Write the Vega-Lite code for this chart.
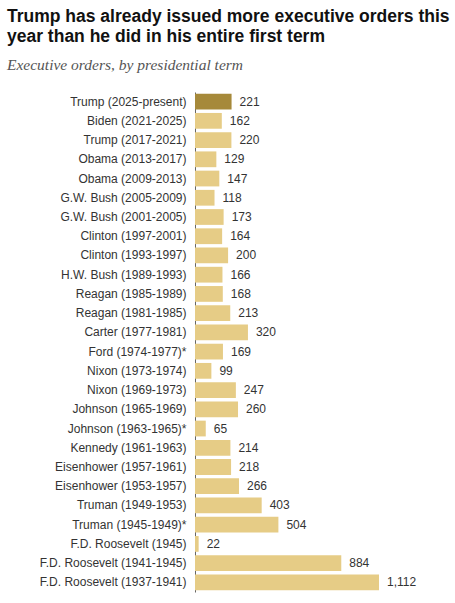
{
  "$schema": "https://vega.github.io/schema/vega-lite/v6.json",
  "autosize": "none",
  "width": 230,
  "height": 500,
  "padding": {"left": 195, "top": 92, "right": 30, "bottom": 11},
  "background": "white",
  "view": {"stroke": null},
  "title": {
    "text": ["Trump has already issued more executive orders this", "year than he did in his entire first term"],
    "subtitle": "Executive orders, by presidential term",
    "anchor": "start",
    "frame": "group",
    "dx": -188,
    "font": "Liberation Sans",
    "fontSize": 17.5,
    "fontWeight": "bold",
    "lineHeight": 20,
    "color": "#111111",
    "subtitleFont": "Liberation Serif",
    "subtitleFontStyle": "italic",
    "subtitleFontSize": 15.5,
    "subtitleColor": "#555555",
    "subtitlePadding": 12,
    "offset": 19
  },
  "data": {
    "values": [
      {"term": "Trump (2025-present)", "orders": 221, "current": true},
      {"term": "Biden (2021-2025)", "orders": 162, "current": false},
      {"term": "Trump (2017-2021)", "orders": 220, "current": false},
      {"term": "Obama (2013-2017)", "orders": 129, "current": false},
      {"term": "Obama (2009-2013)", "orders": 147, "current": false},
      {"term": "G.W. Bush (2005-2009)", "orders": 118, "current": false},
      {"term": "G.W. Bush (2001-2005)", "orders": 173, "current": false},
      {"term": "Clinton (1997-2001)", "orders": 164, "current": false},
      {"term": "Clinton (1993-1997)", "orders": 200, "current": false},
      {"term": "H.W. Bush (1989-1993)", "orders": 166, "current": false},
      {"term": "Reagan (1985-1989)", "orders": 168, "current": false},
      {"term": "Reagan (1981-1985)", "orders": 213, "current": false},
      {"term": "Carter (1977-1981)", "orders": 320, "current": false},
      {"term": "Ford (1974-1977)*", "orders": 169, "current": false},
      {"term": "Nixon (1973-1974)", "orders": 99, "current": false},
      {"term": "Nixon (1969-1973)", "orders": 247, "current": false},
      {"term": "Johnson (1965-1969)", "orders": 260, "current": false},
      {"term": "Johnson (1963-1965)*", "orders": 65, "current": false},
      {"term": "Kennedy (1961-1963)", "orders": 214, "current": false},
      {"term": "Eisenhower (1957-1961)", "orders": 218, "current": false},
      {"term": "Eisenhower (1953-1957)", "orders": 266, "current": false},
      {"term": "Truman (1949-1953)", "orders": 403, "current": false},
      {"term": "Truman (1945-1949)*", "orders": 504, "current": false},
      {"term": "F.D. Roosevelt (1945)", "orders": 22, "current": false},
      {"term": "F.D. Roosevelt (1941-1945)", "orders": 884, "current": false},
      {"term": "F.D. Roosevelt (1937-1941)", "orders": 1112, "current": false}
    ]
  },
  "encoding": {
    "y": {
      "field": "term",
      "type": "nominal",
      "sort": null,
      "title": null,
      "scale": {"paddingInner": 0.18, "paddingOuter": 0.09},
      "axis": {
        "ticks": false,
        "domain": true,
        "domainColor": "#666666",
        "domainWidth": 1,
        "labelFont": "Liberation Sans",
        "labelFontSize": 12,
        "labelColor": "#333333",
        "labelPadding": 9,
        "labelLimit": 200
      }
    },
    "x": {
      "field": "orders",
      "type": "quantitative",
      "title": null,
      "scale": {"domain": [0, 1390], "nice": false},
      "axis": null
    }
  },
  "layer": [
    {
      "mark": {"type": "bar"},
      "encoding": {
        "color": {
          "field": "current",
          "type": "nominal",
          "scale": {"domain": [true, false], "range": ["#a6893a", "#e6cc86"]},
          "legend": null
        }
      }
    },
    {
      "mark": {
        "type": "text",
        "align": "left",
        "baseline": "middle",
        "dx": 8,
        "font": "Liberation Sans",
        "fontSize": 12,
        "color": "#333333"
      },
      "encoding": {
        "text": {"field": "orders", "type": "quantitative", "format": ","}
      }
    }
  ]
}
